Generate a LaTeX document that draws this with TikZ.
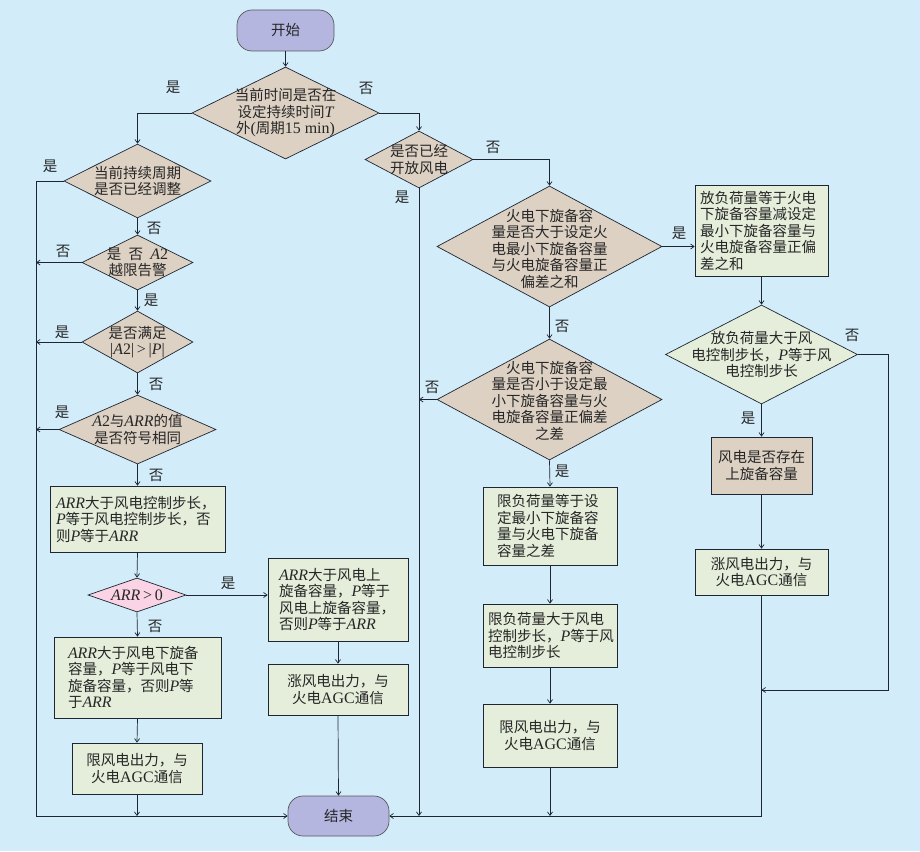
\documentclass[tikz,border=0pt]{standalone}
\usepackage{fontspec}
\setmainfont{Liberation Serif}[Scale=1.1]
\newfontfamily\cjk{Noto Sans CJK SC}
\usetikzlibrary{shapes.geometric,arrows.meta,calc}
\definecolor{cBg}{RGB}{210,236,250}
\definecolor{cTan}{RGB}{221,209,196}
\definecolor{cGrn}{RGB}{229,238,218}
\definecolor{cLav}{RGB}{180,182,224}
\definecolor{cPnk}{RGB}{250,212,228}
\definecolor{cLine}{RGB}{30,38,50}
\definecolor{cTxt}{RGB}{38,38,38}
\newcommand\V[1]{{\rmfamily\itshape #1}}
\newcommand\R[1]{{\rmfamily #1}}
\tikzset{
  base/.style={draw=cLine, line width=0.7pt, text=cTxt, font=\cjk\fontsize{14.5}{16.5}\selectfont, inner sep=0pt},
  dia/.style={base, diamond, fill=cTan},
  box/.style={base, rectangle, fill=cGrn, align=center},
  lbox/.style={base, rectangle, fill=cGrn, align=left},
  term/.style={base, rectangle, rounded corners=15pt, fill=cLav, draw=black!65},
  txt/.style={text=cTxt, font=\cjk\fontsize{14.5}{16.5}\selectfont, align=center, inner sep=0pt},
  lab/.style={text=cTxt, font=\cjk\fontsize{14.5}{16.5}\selectfont, inner sep=0pt},
  arr/.style={draw=cLine, line width=0.7pt, -{Straight Barb[length=3.5pt,width=5pt]}},
}
\begin{document}
\begin{tikzpicture}[x=1pt,y=-1pt]
\fill[cBg] (0,0) rectangle (920,851);
\useasboundingbox (0,0) rectangle (920,851);

% terminals
\node[term, minimum width=97pt, minimum height=41pt] (st) at (285.5,30.5) {开始};
\node[term, minimum width=101pt, minimum height=40pt] (en) at (338.5,816) {结束};

% left column
\node[dia, minimum width=187pt, minimum height=92pt] (d1) at (285.5,113) {};
\node[txt] (t1) at (d1) {当前时间是否在\\设定持续时间\V{T}\\外\R{(}周期\R{15 min)}};
\node[dia, minimum width=147pt, minimum height=74pt] (d2) at (137.5,181) {};
\node[txt] (t2) at (d2) {当前持续周期\\是否已经调整};
\node[dia, minimum width=111pt, minimum height=55pt] (da2) at (137.5,262.5) {};
\node[txt] (ta2) at (da2) {是\enspace 否\enspace \V{A}\R{2}\\越限告警};
\node[dia, minimum width=111pt, minimum height=62pt] (dp) at (137.5,342) {};
\node[txt] (tp) at (dp) {是否满足\\\R{|}\V{A}\R{2|\,>\,|}\V{P}\R{|}};
\node[dia, minimum width=157pt, minimum height=69pt] (ds) at (137.5,429.5) {};
\node[txt] (ts) at (ds) {\V{A}\R{2}与\V{ARR}的值\\是否符号相同};
\node[lbox, minimum height=66pt, text width=163pt, inner xsep=6pt] (b1) at (137.5,519)
  {\V{ARR}大于风电控制步长，\\\V{P}等于风电控制步长，否\\则\V{P}等于\V{ARR}};
\node[dia, fill=cPnk, minimum width=98pt, minimum height=34pt] (da) at (137,595) {};
\node[txt] (tda) at (da) {\V{ARR}\R{\,>\,0}};
\node[lbox, minimum height=81pt, text width=139pt, inner xsep=14pt] (b3) at (137.5,677.5)
  {\V{ARR}大于风电下旋备\\容量，\V{P}等于风电下\\旋备容量，否则\V{P}等\\于\V{ARR}};
\node[box, minimum width=130pt, minimum height=51pt] (b4) at (137,768.5) {限风电出力，与\\火电\R{AGC}通信};
\node[lbox, minimum height=83pt, text width=118pt, inner xsep=11pt] (b2) at (338,599.5)
  {\V{ARR}大于风电上\\旋备容量，\V{P}等于\\风电上旋备容量，\\否则\V{P}等于\V{ARR}};
\node[box, minimum width=140pt, minimum height=51pt] (b5) at (338,689.5) {涨风电出力，与\\火电\R{AGC}通信};

% middle column
\node[dia, minimum width=108pt, minimum height=57pt] (d3) at (419,159.5) {};
\node[txt] (t3) at (d3) {是否已经\\开放风电};
\node[dia, minimum width=225pt, minimum height=121pt] (d4) at (549.5,246.5) {};
\node[txt] (t4) at ([yshift=-2pt]d4.center) {火电下旋备容\\量是否大于设定火\\电最小下旋备容量\\与火电旋备容量正\\偏差之和};
\node[dia, minimum width=225pt, minimum height=121pt] (d5) at (549.5,399.5) {};
\node[txt] (t5) at ([yshift=-1pt]d5.center) {火电下旋备容\\量是否小于设定最\\小下旋备容量与火\\电旋备容量正偏差\\之差};
\node[lbox, minimum height=78pt, text width=106pt, inner xsep=14pt] (m1) at (550,526)
  {限负荷量等于设\\定最小下旋备容\\量与火电下旋备\\容量之差};
\node[lbox, minimum height=63pt, text width=124pt, inner xsep=5pt] (m2) at (550,635.5)
  {限负荷量大于风电\\控制步长，\V{P}等于风\\电控制步长};
\node[box, minimum width=134pt, minimum height=63pt] (m3) at (550,735.5) {限风电出力，与\\火电\R{AGC}通信};

% right column
\node[lbox, minimum height=91pt, text width=123pt, inner xsep=5pt] (r1) at (761.5,230.5)
  {放负荷量等于火电\\下旋备容量减设定\\最小下旋备容量与\\火电旋备容量正偏\\差之和};
\node[dia, fill=cGrn, minimum width=192pt, minimum height=99pt] (d6) at (761.5,354.5) {};
\node[txt] (t6) at (d6) {放负荷量大于风\\电控制步长，\V{P}等于风\\电控制步长};
\node[box, fill=cTan, minimum width=101pt, minimum height=57pt] (r2) at (761.5,465.5) {风电是否存在\\上旋备容量};
\node[box, minimum width=133pt, minimum height=46pt] (r3) at (761.5,572) {涨风电出力，与\\火电\R{AGC}通信};

% helper coordinates
\coordinate (lx) at (36,181);
\coordinate (rx) at (888,354.5);
\coordinate (mj) at (761.5,690);

% connectors
\draw[arr] (st.south) -- (d1.north);
\draw[arr] (d1.west) -| (d2.north);
\draw[arr] (d1.east) -| (d3.north);
\draw[arr] (d2.west) -| (lx |- en.west) -- (en.west);
\draw[arr] (d2.south) -- (da2.north);
\draw[arr] (da2.west) -- (da2.west -| lx);
\draw[arr] (da2.south) -- (dp.north);
\draw[arr] (dp.west) -- (dp.west -| lx);
\draw[arr] (dp.south) -- (ds.north);
\draw[arr] (ds.west) -- (ds.west -| lx);
\draw[arr] (ds.south) -- (b1.north);
\draw[arr] (b1.south) -- (da.north);
\draw[arr] (da.east) -- (da.east -| b2.west);
\draw[arr] (da.south) -- (b3.north);
\draw[arr] (b3.south) -- (b4.north);
\draw[arr] (b4.south) -- (b4.south |- en.west);
\draw[arr] (b2.south) -- (b5.north);
\draw[arr] (b5.south) -- (en.north);
\draw[arr] (d3.south) -- (d3.south |- en.east);
\draw[arr] (d3.east) -| (d4.north);
\draw[arr] (d4.east) -- (d4.east -| r1.west);
\draw[arr] (d4.south) -- (d5.north);
\draw[arr] (d5.west) -- (d5.west -| d3.south);
\draw[arr] (d5.south) -- (m1.north);
\draw[arr] (m1.south) -- (m2.north);
\draw[arr] (m2.south) -- (m3.north);
\draw[arr] (m3.south) -- (m3.south |- en.east);
\draw[arr] (r1.south) -- (d6.north);
\draw[arr] (d6.south) -- (r2.north);
\draw[arr] (r2.south) -- (r3.north);
\draw[arr] (r3.south) -- (r3.south |- en.east) -- (en.east);
\draw[arr] (d6.east) -- (rx) -- (rx |- mj) -- (mj);

% labels
\node[lab] (l1) at (173,87) {是};
\node[lab] (l2) at (366,88) {否};
\node[lab] (l3) at (50,166) {是};
\node[lab] (l4) at (154,228) {否};
\node[lab] (l5) at (63,251) {否};
\node[lab] (l6) at (151,300) {是};
\node[lab] (l7) at (62,332) {是};
\node[lab] (l8) at (156,384) {否};
\node[lab] (l9) at (62,412) {是};
\node[lab] (l10) at (156,475) {否};
\node[lab] (l11) at (228,583) {是};
\node[lab] (l12) at (155,626) {否};
\node[lab] (l13) at (402,197) {是};
\node[lab] (l14) at (493,147) {否};
\node[lab] (l15) at (679,233) {是};
\node[lab] (l16) at (562,326) {否};
\node[lab] (l17) at (432,387) {否};
\node[lab] (l18) at (562,471) {是};
\node[lab] (l19) at (852,335) {否};
\node[lab] (l20) at (748,418) {是};
\end{tikzpicture}
\end{document}
